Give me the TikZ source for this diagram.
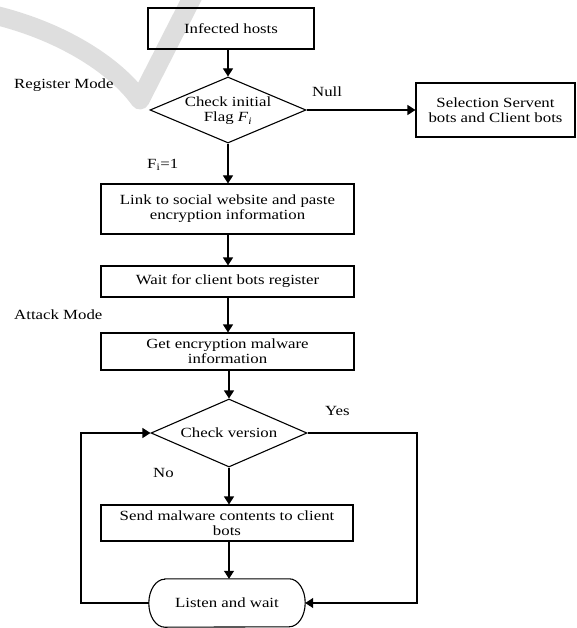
\documentclass[tikz,border=0pt]{standalone}
\usepackage{fontspec}
\setmainfont{Liberation Serif}[FakeStretch=1.2]
\usetikzlibrary{shapes.geometric,arrows.meta}
\begin{document}
\begin{tikzpicture}[x=1pt,y=-1pt,
  every node/.style={font=\fontsize{14}{15}\selectfont},
  box/.style={draw,line width=1.1pt,inner sep=0pt,align=center},
  dia/.style={draw,diamond,line width=1.1pt,inner sep=0pt},
  txt/.style={inner sep=0pt,align=center},
  arr/.style={line width=1.1pt,-{Triangle[length=8pt,width=10pt]}},
  ln/.style={line width=1.1pt}]
\useasboundingbox (0,0) rectangle (577,628);
% watermark stroke
\draw[black!13,line width=19pt,line join=round] (-10,14) .. controls (60,30) and (115,65) .. (140,100) -- (196,-10);

\node[box,minimum width=166pt,minimum height=41pt] (hosts) at (231,28.5) {Infected hosts};
\node[dia,minimum width=156pt,minimum height=66pt] (chk1) at (228,110) {};
\node[txt] (chk1t) at (228,111) {Check initial\\Flag \textit{F}\textsubscript{\textit{i}}};
\node[box,minimum width=159pt,minimum height=54pt] (sel) at (495.5,110) {Selection Servent\\bots and Client bots};
\node[box,minimum width=253pt,minimum height=50pt] (link) at (227.5,209) {Link to social website and paste\\encryption information};
\node[box,minimum width=253pt,minimum height=31pt] (wait) at (227.5,281.5) {Wait for client bots register};
\node[box,minimum width=253pt,minimum height=37pt] (get) at (227.5,351.5) {Get encryption malware\\information};
\node[dia,minimum width=156pt,minimum height=68pt] (chk2) at (229,433) {};
\node[txt] (chk2t) at (229,433) {Check version};
\node[box,minimum width=252pt,minimum height=36pt] (send) at (227,523) {Send malware contents to client\\bots};
\node[txt,minimum width=156pt,minimum height=48pt] (listen) at (227,603) {Listen and wait};
\draw[ln] ([xshift=16pt]listen.north west) -- ([xshift=-16pt]listen.north east)
  arc[start angle=90,end angle=-90,x radius=16pt,y radius=24pt]
  -- ([xshift=16pt]listen.south west)
  arc[start angle=270,end angle=90,x radius=16pt,y radius=24pt] -- cycle;

% labels
\node[txt,anchor=west] (rm) at (14,85) {Register Mode};
\node[txt,anchor=west] (am) at (14,315) {Attack Mode};
\node[txt,anchor=west] (null) at (312,92) {Null};
\node[txt,anchor=west] (f1) at (147,165) {F\textsubscript{i}=1};
\node[txt,anchor=west] (yes) at (325,411) {Yes};
\node[txt,anchor=west] (no) at (153,473) {No};

\coordinate (lc) at (81,0);
\coordinate (rc) at (417,0);

% connectors
\draw[arr] (hosts.south -| chk1.north) -- (chk1.north);
\draw[arr] (chk1.east) -- (sel.west);
\draw[arr] (chk1.south) -- (link.north -| chk1.south);
\draw[arr] (link.south -| chk1.south) -- (wait.north -| chk1.south);
\draw[arr] (wait.south -| chk1.south) -- (get.north -| chk1.south);
\draw[arr] (get.south -| chk2.north) -- (chk2.north);
\draw[arr] (chk2.south) -- (send.north -| chk2.south);
\draw[arr] (send.south -| chk2.south) -- (listen.north -| chk2.south);
\draw[arr] (listen.west) -- (listen.west -| lc) |- (chk2.west);
\draw[arr] (chk2.east) -- (chk2.east -| rc) |- (listen.east);
\end{tikzpicture}
\end{document}
